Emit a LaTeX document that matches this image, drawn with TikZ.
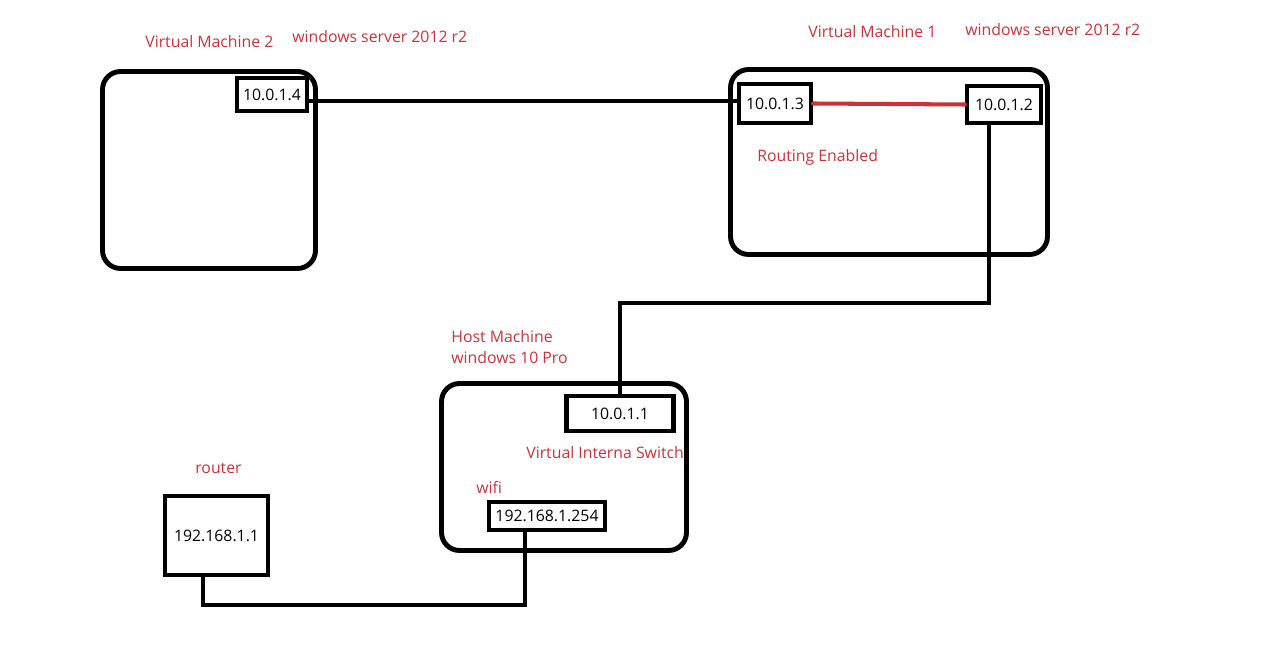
\documentclass[tikz,border=0pt]{standalone}
\usepackage{fontspec}
\setmainfont{Open Sans}
\usepackage{tikz}
\usetikzlibrary{calc}
\usetikzlibrary{positioning}
\usepackage{xcolor}
\definecolor{vmred}{RGB}{204,50,56}

\begin{document}
\begin{tikzpicture}[x=0.02cm, y=-0.02cm,
		m/.style = {rectangle, draw=black, line width=2.8pt, rounded corners=0.36cm, inner sep=0},
		ip/.style = {rectangle, draw=black, line width=2.3pt, inner sep=0, font=\fontsize{9}{10}\selectfont},
		l/.style = {anchor=west, inner sep=0, text=vmred, font=\fontsize{9}{10}\selectfont},
		w/.style = {line width=2.3pt, line cap=round}
		]
		\useasboundingbox	(0, 0)	rectangle	(1265, 655);
		
		%Nodes
		\node[m, minimum width=4.26cm, minimum height=3.94cm]	(vm2)	at	(209, 170)	{};
		\node[m, minimum width=6.34cm, minimum height=3.7cm]	(vm1)	at	(889, 162)	{};
		\node[m, minimum width=4.9cm, minimum height=3.34cm]	(host)	at	(564, 467)	{};
		
		\node[ip, minimum width=1.4cm, minimum height=0.66cm]	(ip4)	at	(272, 94.5)	{10.0.1.4};
		\node[ip, minimum width=1.44cm, minimum height=0.78cm]	(ip3)	at	(775, 103.5)	{10.0.1.3};
		\node[ip, minimum width=1.48cm, minimum height=0.74cm]	(ip2)	at	(1004, 104.5)	{10.0.1.2};
		\node[ip, minimum width=2.14cm, minimum height=0.7cm]	(ip1)	at	(620, 413.5)	{10.0.1.1};
		\node[ip, minimum width=2.32cm, minimum height=0.56cm]	(wifi)	at	(547, 516)	{192.168.1.254};
		\node[ip, minimum width=2.06cm, minimum height=1.58cm]	(router)	at	(216.5, 535.5)	{192.168.1.1};
		
		%Labels
		\node[l]	(vm2name)	at	(145, 42)	{Virtual Machine 2};
		\node[l]	(vm2os)	at	(292, 37)	{windows server 2012 r2};
		\node[l]	(vm1name)	at	(808, 32)	{Virtual Machine 1};
		\node[l]	(vm1os)	at	(965, 30)	{windows server 2012 r2};
		\node[l]	(routing)	at	(757, 157)	{Routing Enabled};
		\node[l]	(hostname)	at	(451, 337)	{Host Machine};
		\node[l]	(hostos)	at	(451, 358)	{windows 10 Pro};
		\node[l]	(switch)	at	(526, 453)	{Virtual Interna Switch};
		\node[l]	(wifiname)	at	(476, 487)	{wifi};
		\node[l]	(routername)	at	(195, 468)	{router};
		
		%Lines
		\coordinate	(k1)	at	(989, 303);
		\coordinate	(k2)	at	(525, 605);
		\coordinate	(k3)	at	(203, 605);
		\draw[w]	(ip4.east |- 0, 101)	--	(ip3.west |- 0, 101);
		\draw[w, vmred]	(ip3.east)	--	(ip2.west);
		\draw[w]	(ip2.south -| k1)	--	(k1)	-|	(ip1.north);
		\draw[w]	(wifi.south -| k2)	--	(k2)	--	(k3)	--	(router.south -| k3);
	\end{tikzpicture}
\end{document}
